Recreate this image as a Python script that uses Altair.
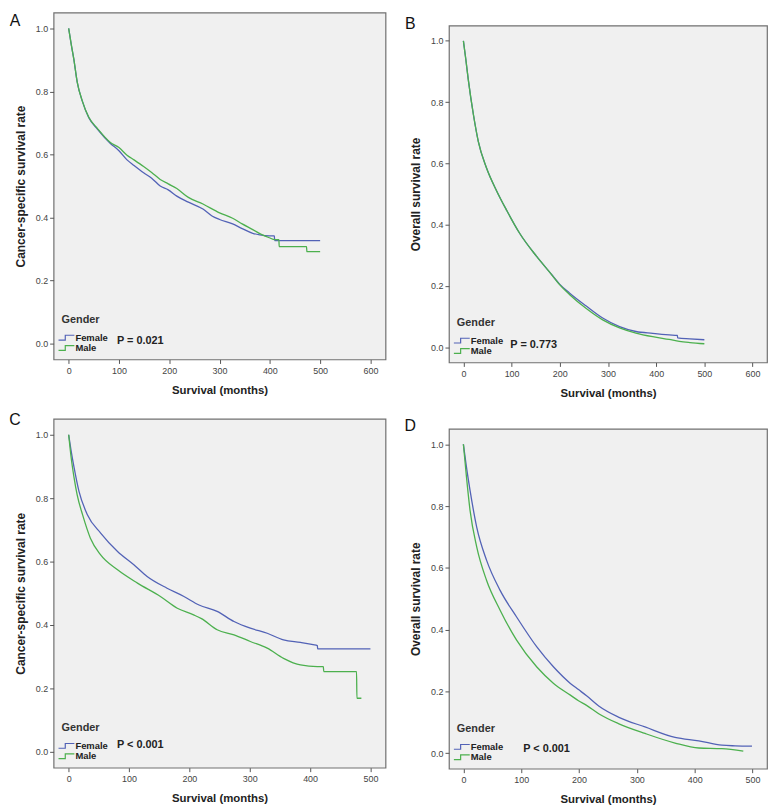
import altair as alt
import pandas as pd

# ---------------- data ----------------
genders = ["Female", "Male"]

# Panel A: cancer-specific survival
a_f_t = [0, 5, 10, 17, 27, 40, 57, 83, 100, 116, 130, 149, 165, 182, 198, 215, 238, 267, 285, 300, 326, 345, 366, 380, 399, 409, 409.6, 500]
a_f_s = [1.0, 0.95, 0.905, 0.83, 0.77, 0.717, 0.681, 0.635, 0.612, 0.583, 0.565, 0.542, 0.525, 0.50, 0.488, 0.468, 0.449, 0.427, 0.405, 0.394, 0.38, 0.365, 0.35, 0.345, 0.342, 0.342, 0.327, 0.327]
a_m_t = [0, 5, 10, 17, 27, 40, 57, 83, 100, 116, 130, 149, 165, 182, 198, 215, 238, 267, 300, 326, 345, 366, 385, 399, 410, 418, 418.6, 473, 473.6, 500]
a_m_s = [1.0, 0.95, 0.905, 0.83, 0.77, 0.718, 0.683, 0.638, 0.622, 0.598, 0.583, 0.562, 0.543, 0.521, 0.507, 0.492, 0.464, 0.443, 0.415, 0.398, 0.38, 0.362, 0.345, 0.336, 0.33, 0.33, 0.308, 0.308, 0.292, 0.292]

# Panel B: overall survival
b_f_t = [0, 5, 10, 21, 31, 48, 69, 90, 117, 152, 183, 200, 220, 255, 289, 324, 358, 393, 427, 444, 444.6, 470, 500]
b_f_s = [1.0, 0.94, 0.875, 0.757, 0.671, 0.585, 0.51, 0.446, 0.371, 0.296, 0.237, 0.205, 0.177, 0.134, 0.095, 0.067, 0.051, 0.045, 0.040, 0.038, 0.030, 0.027, 0.024]
b_m_t = [0, 5, 10, 21, 31, 48, 69, 90, 117, 152, 183, 200, 220, 255, 289, 324, 358, 393, 427, 448, 470, 500]
b_m_s = [1.0, 0.94, 0.875, 0.757, 0.671, 0.585, 0.51, 0.446, 0.371, 0.296, 0.237, 0.203, 0.172, 0.126, 0.089, 0.063, 0.046, 0.034, 0.025, 0.019, 0.015, 0.011]

# Panel C: cancer-specific survival
c_f_t = [0, 4, 9, 17, 31, 53, 81, 108, 130, 163, 191, 216, 246, 274, 301, 329, 356, 384, 405, 412, 412.6, 500]
c_f_s = [1.0, 0.95, 0.896, 0.822, 0.748, 0.69, 0.632, 0.59, 0.553, 0.516, 0.49, 0.463, 0.443, 0.411, 0.39, 0.374, 0.353, 0.345, 0.338, 0.335, 0.325, 0.325]
c_m_t = [0, 4, 9, 14, 23, 36, 53, 81, 114, 152, 180, 207, 220, 246, 274, 301, 329, 356, 384, 412, 422, 422.6, 477, 477.6, 485]
c_m_s = [1.0, 0.93, 0.864, 0.811, 0.748, 0.674, 0.621, 0.574, 0.532, 0.49, 0.453, 0.432, 0.42, 0.385, 0.369, 0.348, 0.327, 0.295, 0.274, 0.269, 0.269, 0.253, 0.253, 0.169, 0.169]

# Panel D: overall survival
d_f_t = [0, 5, 11.5, 23, 40, 63.5, 92, 127, 156, 185, 199, 213, 234, 268, 314, 366, 407, 447, 470, 499]
d_f_s = [1.0, 0.93, 0.851, 0.732, 0.625, 0.527, 0.441, 0.344, 0.279, 0.226, 0.206, 0.186, 0.153, 0.117, 0.085, 0.051, 0.04, 0.026, 0.024, 0.023]
d_m_t = [0, 5, 11.5, 23, 40, 63.5, 92, 127, 156, 185, 199, 213, 234, 268, 314, 366, 407, 447, 484]
d_m_s = [1.0, 0.9, 0.786, 0.668, 0.56, 0.463, 0.366, 0.279, 0.226, 0.188, 0.17, 0.155, 0.128, 0.096, 0.064, 0.033, 0.017, 0.015, 0.007]

p_values = ["P = 0.021", "P = 0.773", "P < 0.001", "P < 0.001"]
panel_letters = ["A", "B", "C", "D"]
y_titles = ["Cancer-specific survival rate", "Overall survival rate",
            "Cancer-specific survival rate", "Overall survival rate"]
y_ticks = [0.0, 0.2, 0.4, 0.6, 0.8, 1.0]

BLUE = "#5262b6"
GREEN = "#4cb04e"
FONT = "Liberation Sans"


def km_frame(ft, fs, mt, ms):
    rows = []
    for i, (t, s) in enumerate(zip(ft, fs)):
        rows.append({"t": t, "s": s, "g": "Female", "o": i})
    for i, (t, s) in enumerate(zip(mt, ms)):
        rows.append({"t": t, "s": s, "g": "Male", "o": i})
    return pd.DataFrame(rows)


def panel(idx, ft, fs, mt, ms, xmax, w, h, letter_top, pv_dx, pv_dy):
    df = km_frame(ft, fs, mt, ms)
    pad = xmax * 0.05
    lines = alt.Chart(df).mark_line(strokeWidth=1.3, interpolate="monotone").encode(
        x=alt.X("t:Q",
                scale=alt.Scale(domain=[-pad, xmax + pad], nice=False, zero=False),
                axis=alt.Axis(values=list(range(0, xmax + 1, 100)), title="Survival (months)",
                              titleFontSize=11.5, titlePadding=9, labelPadding=3)),
        y=alt.Y("s:Q",
                scale=alt.Scale(domain=[-0.05, 1.05], nice=False, zero=False),
                axis=alt.Axis(values=y_ticks, format=".1f", title=y_titles[idx],
                              titleFontSize=12, titlePadding=8, labelPadding=2)),
        color=alt.Color("g:N",
                        scale=alt.Scale(domain=genders, range=[BLUE, GREEN]),
                        legend=alt.Legend(
                            title="Gender", orient="none", legendX=8, legendY=h - 46,
                            titleFont=FONT, titleFontSize=11, titleFontWeight="bold",
                            titleColor="#333333", titlePadding=8,
                            labelFont=FONT, labelFontSize=9.5, labelFontWeight="bold",
                            labelColor="#222222", labelOffset=4,
                            symbolType="M-2,0.6 L-0.3,0.6 L-0.3,-0.6 L2,-0.6",
                            symbolSize=64, symbolStrokeWidth=1.2,
                            symbolFillColor="transparent", rowPadding=0.5, padding=0)),
        order="o:Q",
    )
    letter = alt.Chart(pd.DataFrame({"l": [panel_letters[idx]]})).mark_text(
        font=FONT, fontSize=16, color="#111111", align="center", baseline="top"
    ).encode(text="l:N", x=alt.value(-39), y=alt.value(letter_top))
    pv = alt.Chart(pd.DataFrame({"p": [p_values[idx]]})).mark_text(
        font=FONT, fontSize=11, fontWeight="bold", color="#222222", align="left", baseline="middle"
    ).encode(text="p:N", x=alt.value(pv_dx), y=alt.value(h - pv_dy))
    return alt.layer(lines, letter, pv).properties(width=w, height=h)


def indep(c):
    return c.resolve_scale(color="independent").resolve_legend(color="independent")


A = panel(0, a_f_t, a_f_s, a_m_t, a_m_s, 600, 335, 350, 0, 64, 19)
B = panel(1, b_f_t, b_f_s, b_m_t, b_m_s, 600, 321, 340, -10, 62, 18)
C = panel(2, c_f_t, c_f_s, c_m_t, c_m_s, 500, 335, 352, -7, 64, 23)
D = panel(3, d_f_t, d_f_s, d_m_t, d_m_s, 500, 321, 343, -11, 75, 20)

# an empty, invisible strip that pushes panel B down, as in the reference
spacer = alt.Chart(pd.DataFrame({"v": [0]})).mark_rect(opacity=0).encode(
    x=alt.value(0), x2=alt.value(1), y=alt.value(0), y2=alt.value(1)
).properties(width=10, height=1,
             view=alt.ViewBackground(fill="transparent", stroke="transparent"))

left_col = indep(alt.vconcat(A, C, spacing=14))
right_col = indep(alt.vconcat(indep(alt.vconcat(spacer, B, spacing=0)), D, spacing=17))

chart = indep(alt.hconcat(left_col, right_col, spacing=17)).properties(
    padding=0, background="white"
).configure_view(
    fill="#f0f0f0", stroke="#707070", strokeWidth=1.2
).configure_axis(
    labelFont=FONT, labelFontSize=9, labelColor="#444444",
    tickColor="#555555", tickSize=4, domain=False, grid=False,
    titleFont=FONT, titleFontWeight="bold", titleColor="#222222"
)

chart.save("out.html", embed_options={"renderer": "svg", "actions": False})
